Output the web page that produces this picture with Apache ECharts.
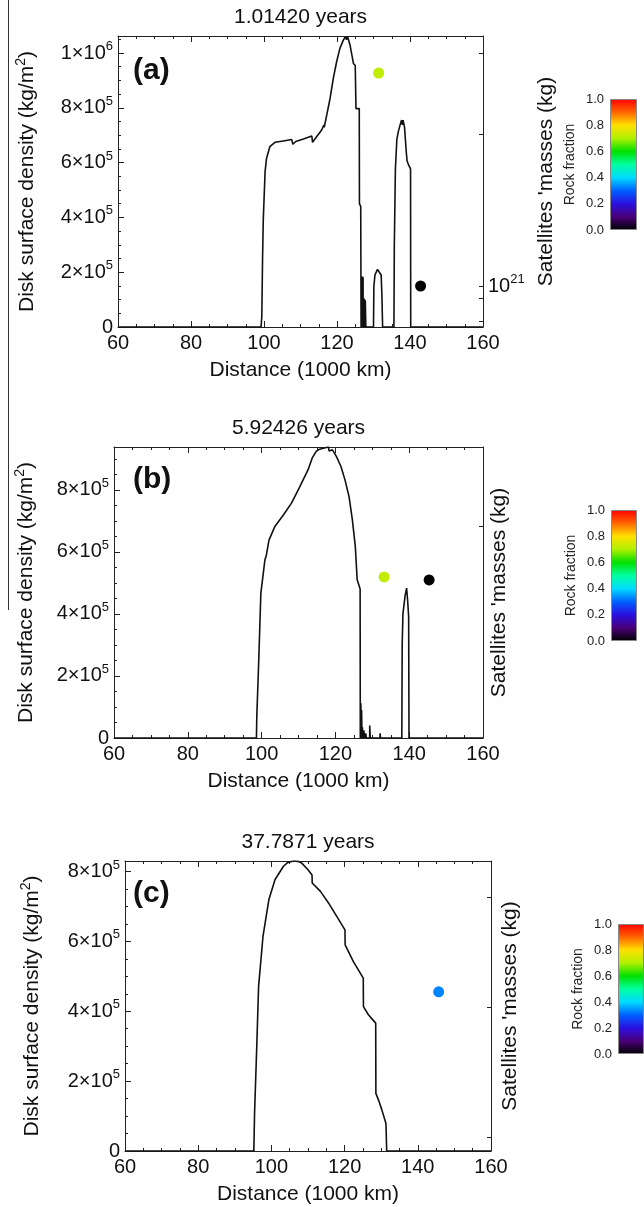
<!DOCTYPE html>
<html><head><meta charset="utf-8">
<script src="https://cdn.jsdelivr.net/npm/echarts@6/dist/echarts.min.js"></script>
<style>html,body{margin:0;padding:0;background:#fff}#c{width:644px;height:1207px}</style>
</head><body><div id="c"></div>
<script>
// ---------- data ----------
const xTicks = [60, 80, 100, 120, 140, 160];
const panelTitles = ['1.01420 years', '5.92426 years', '37.7871 years'];
const panelLetters = ['(a)', '(b)', '(c)'];
const densityMax = [10.62, 9.38, 8.3]; // units of 1e5 kg/m^2

// disk surface density, [distance (1000 km), density (1e5 kg/m^2)]
const densityA = [[60,0],[99.2,0],[99.4,0.39],[99.6,2.45],[99.8,3.91],[100.3,5.67],[100.7,6.16],[101.6,6.58],[103,6.74],[105.3,6.79],[107.6,6.84],[107.9,6.67],[108.3,6.7],[108.7,6.77],[110.8,6.86],[113.1,6.97],[113.3,6.74],[114.4,6.94],[115.8,7.19],[116.4,7.37],[116.5,7.29],[117.2,7.74],[118.1,8.34],[119,9.08],[119.9,9.68],[120.8,10.17],[121.7,10.46],[122.3,10.6],[122.6,10.48],[122.9,10.6],[123.6,10.27],[124.5,9.62],[125.0,9.54],[125.15,9.49],[125.2,7.97],[126.1,7.97],[126.15,4.5],[126.5,4.4],[126.6,0],
  [126.65,1.84],[126.75,1.84],[126.75,0],[126.85,0],[126.85,1.81],[126.95,1.81],[126.95,0],[127.05,0],[127.05,1.84],[127.15,1.76],[127.15,0],[127.25,0],[127.25,1.05],[127.4,1.05],[127.4,0],[127.5,0],[127.5,1.03],[127.65,1.03],[127.65,0],[127.75,0],[127.75,0.98],[127.9,0.98],[127.9,0],
  [130.0,0],[130.1,1.47],[130.4,1.9],[131.1,2.1],[131.6,2.0],[132.1,1.9],[132.3,1.17],[132.5,0],
  [135.6,0],[135.7,2.93],[136.0,5.77],[136.4,6.85],[136.8,7.13],[137.4,7.43],[137.7,7.55],[137.9,7.38],[138.1,7.55],[138.5,7.29],[139.0,6.36],[139.2,6.06],[139.6,5.92],[140.15,5.77],[140.2,0],[160,0]];

const densityB = [[60,0],[98.6,0],[98.7,0.69],[99.2,2.4],[99.8,4.67],[100.9,5.74],[101.3,5.9],[102,6.38],[103.6,6.82],[105.9,7.19],[108.1,7.57],[110.4,8.11],[112.6,8.65],[113.7,9.02],[114.8,9.24],[115.5,9.3],[117,9.35],[117.5,9.38],[118.1,9.38],[118.3,9.25],[119.2,9.29],[120.3,9.07],[121.5,8.75],[122.6,8.32],[123.7,7.78],[124.6,7.03],[125.4,6.17],[125.9,5.1],[126.5,4.88],[126.7,4.8],[126.75,0],
  [126.9,0],[126.9,1.12],[127.0,1.12],[127.0,0],[127.1,0],[127.1,0.9],[127.2,0.9],[127.2,0],[127.3,0],[127.3,0.35],[127.5,0.3],[127.5,0],[127.7,0],[127.7,0.25],[127.9,0.2],[127.9,0],[128.2,0],[128.2,0.15],[128.4,0.1],[128.4,0],
  [129.3,0],[129.3,0.4],[129.45,0.4],[129.45,0],[132.1,0],[132.1,0.15],[132.25,0.15],[132.25,0],
  [138.0,0],[138.1,3.0],[138.3,4.0],[138.9,4.6],[139.3,4.83],[139.6,4.4],[139.85,3.9],[139.95,0],[160,0]];

const densityC = [[60,0],[95.2,0],[95.4,1.08],[96,2.99],[96.5,4.71],[97.7,6.14],[99.3,7.19],[101,7.77],[103.3,8.15],[104.5,8.26],[106.1,8.3],[107.2,8.29],[108.3,8.24],[110,8.05],[111.1,7.9],[111.15,7.67],[113.4,7.43],[115.6,7.1],[117.9,6.71],[120.1,6.33],[120.15,5.9],[122.4,5.42],[125.1,4.95],[125.15,4.13],[126.5,3.9],[128.5,3.66],[128.55,1.65],[129.3,1.45],[130.2,1.17],[131.3,0.79],[131.5,0],[160,0]];

// satellites: [distance (1000 km), log10 mass (kg), rock fraction]
const satellitesA = [[131.4, 21.426, 0.72], [142.9, 21.0, 0.0]];
const satellitesB = [[133.2, 20.761, 0.72], [145.4, 20.747, 0.0]];
const satellitesC = [[145.7, 20.447, 0.33]];

// right (log mass) axis ranges, tick positions and labels (log10 kg)
const massRange = [[20.918, 21.5], [20.0, 21.375], [20.2, 20.65]];
const massTicks = [[20.93, 20.976, 21, 21.304, 21.466], [21], [20.2216, 20.4227, 20.593]];
const massLabels = [[21], [], []];

// colour bar
const rockTicks = [0, 0.2, 0.4, 0.6, 0.8, 1.0];
const rockColors = ['#000000','#4a0078','#2a10e0','#0060ff','#00dcff','#00ffa0','#00e000','#b0f000','#ffe000','#ff6400','#ff0000'];

// ---------- layout ----------
const FONT = 'Liberation Sans, Arial, Helvetica, sans-serif';
const INK = '#111';
const grids = [
  {left: 118, top: 36, width: 365, height: 291},
  {left: 114, top: 447, width: 369, height: 291},
  {left: 125, top: 861, width: 366, height: 290}
];
const barGrids = [
  {left: 610, top: 99, width: 27, height: 131},
  {left: 611, top: 510, width: 26, height: 131},
  {left: 618, top: 924, width: 27, height: 130}
];
const leftNameGap = [78, 75, 80];
const rightNameGap = [48, 6, 9];
const densities = [densityA, densityB, densityC];
const satellites = [satellitesA, satellitesB, satellitesC];

const rich = {
  b: {fontSize: 20, lineHeight: 26, fontFamily: FONT, color: INK},
  s: {fontSize: 13, lineHeight: 13, verticalAlign: 'top', fontFamily: FONT, color: INK}
};
function densLabel(v) {
  if (Math.abs(v) < 1e-9) return '{b|0}';
  if (Math.abs(v - 10) < 1e-9) return '{b|1×10}{s|6}';
  if (Math.abs(v % 2) < 1e-9) return '{b|' + Math.round(v) + '×10}{s|5}';
  return '';
}
const axisLine = {show: true, lineStyle: {color: '#222', width: 1}};

const grid = [], xAxis = [], yAxis = [], series = [], graphic = [];
for (let i = 0; i < 3; i++) {
  grid.push(grids[i]);
  xAxis.push({
    type: 'value', gridIndex: i, min: xTicks[0], max: xTicks[xTicks.length - 1], interval: 20,
    axisLine, axisTick: {inside: true, length: 6, lineStyle: {color: '#222'}},
    minorTick: {show: true, splitNumber: 4, length: 3, lineStyle: {color: '#222'}},
    splitLine: {show: false},
    axisLabel: {fontSize: 20, fontFamily: FONT, color: INK, margin: 6},
    name: 'Distance (1000 km)', nameLocation: 'middle', nameGap: 33,
    nameTextStyle: {fontSize: 21, fontFamily: FONT, color: INK}
  });
  xAxis.push({
    type: 'value', gridIndex: i, position: 'top', min: xTicks[0], max: xTicks[xTicks.length - 1], interval: 20,
    axisLine, axisTick: {inside: true, length: 6, lineStyle: {color: '#222'}},
    minorTick: {show: true, splitNumber: 4, length: 3, lineStyle: {color: '#222'}},
    splitLine: {show: false}, axisLabel: {show: false}
  });
  yAxis.push({
    type: 'value', gridIndex: i, min: 0, max: densityMax[i], interval: 2,
    axisLine, axisTick: {inside: true, length: 6, lineStyle: {color: '#222'}},
    minorTick: {show: true, splitNumber: 4, length: 3, lineStyle: {color: '#222'}},
    splitLine: {show: false},
    axisLabel: {formatter: densLabel, rich, margin: 5, showMaxLabel: false},
    name: '{n|Disk surface density (kg/m}{s|2}{n|)}', nameLocation: 'middle', nameGap: leftNameGap[i], nameRotate: 90,
    nameTextStyle: {rich: {
      n: {fontSize: 21, lineHeight: 26, fontFamily: FONT, color: INK},
      s: {fontSize: 14, lineHeight: 14, verticalAlign: 'top', fontFamily: FONT, color: INK}
    }}
  });
  yAxis.push({
    type: 'value', gridIndex: i, position: 'right', min: massRange[i][0], max: massRange[i][1],
    axisLine,
    axisTick: {show: true, inside: true, length: 4, customValues: massTicks[i], lineStyle: {color: '#222'}},
    splitLine: {show: false},
    axisLabel: massLabels[i].length ? {show: true, customValues: massLabels[i], margin: 5,
      formatter: v => '{b|10}{s|' + Math.round(v) + '}', rich} : {show: false},
    name: "Satellites 'masses (kg)", nameLocation: 'middle', nameGap: rightNameGap[i], nameRotate: 90,
    nameTextStyle: {fontSize: 21, fontFamily: FONT, color: INK, verticalAlign: 'top'}
  });
}
for (let j = 0; j < 3; j++) {
  grid.push(barGrids[j]);
  xAxis.push({type: 'category', gridIndex: 3 + j, data: ['rock'], show: false});
  yAxis.push({
    type: 'value', gridIndex: 3 + j, min: rockTicks[0], max: rockTicks[rockTicks.length - 1], interval: 0.2,
    axisLine: {show: false}, axisTick: {show: false}, splitLine: {show: false},
    axisLabel: {fontSize: 13, fontFamily: FONT, color: '#222', margin: 6, formatter: v => v.toFixed(1)},
    name: 'Rock fraction', nameLocation: 'middle', nameGap: 33, nameRotate: 90,
    nameTextStyle: {fontSize: 14, fontFamily: FONT, color: '#222'}
  });
}
for (let i = 0; i < 3; i++) {
  series.push({
    type: 'line', xAxisIndex: 2 * i, yAxisIndex: 2 * i, data: densities[i],
    showSymbol: false, symbol: 'none', lineStyle: {color: INK, width: 1.6}, z: 2
  });
}
const scatterIdx = [];
for (let i = 0; i < 3; i++) {
  scatterIdx.push(series.length);
  series.push({
    type: 'scatter', xAxisIndex: 2 * i, yAxisIndex: 2 * i + 1, data: satellites[i],
    symbolSize: 11, itemStyle: {opacity: 1}, z: 3
  });
}
const stops = rockColors.map((c, k) => ({offset: k / (rockColors.length - 1), color: c}));
for (let j = 0; j < 3; j++) {
  series.push({
    type: 'bar', xAxisIndex: 6 + j, yAxisIndex: 6 + j, data: [1], barWidth: '100%',
    itemStyle: {color: new echarts.graphic.LinearGradient(0, 1, 0, 0, stops), borderColor: '#888', borderWidth: 1}
  });
}
const titleY = [17, 428, 842];
const letterY = [71, 480, 894];
for (let i = 0; i < 3; i++) {
  const g = grids[i];
  graphic.push({type: 'text', x: g.left + g.width / 2, y: titleY[i],
    style: {text: panelTitles[i], font: '21px ' + FONT, fill: INK, align: 'center', verticalAlign: 'middle'}});
  graphic.push({type: 'text', x: 133, y: letterY[i],
    style: {text: panelLetters[i], font: 'bold 30px ' + FONT, fill: INK, align: 'left', verticalAlign: 'middle'}});
}
graphic.push({type: 'line', shape: {x1: 8.5, y1: 0, x2: 8.5, y2: 610}, style: {stroke: '#333', lineWidth: 1}});

const chart = echarts.init(document.getElementById('c'), null, {renderer: 'canvas'});
chart.setOption({
  animation: false,
  grid, xAxis, yAxis, series, graphic,
  visualMap: {type: 'continuous', show: false, dimension: 2, min: 0, max: 1,
    seriesIndex: scatterIdx, inRange: {color: rockColors}}
});
</script></body></html>
